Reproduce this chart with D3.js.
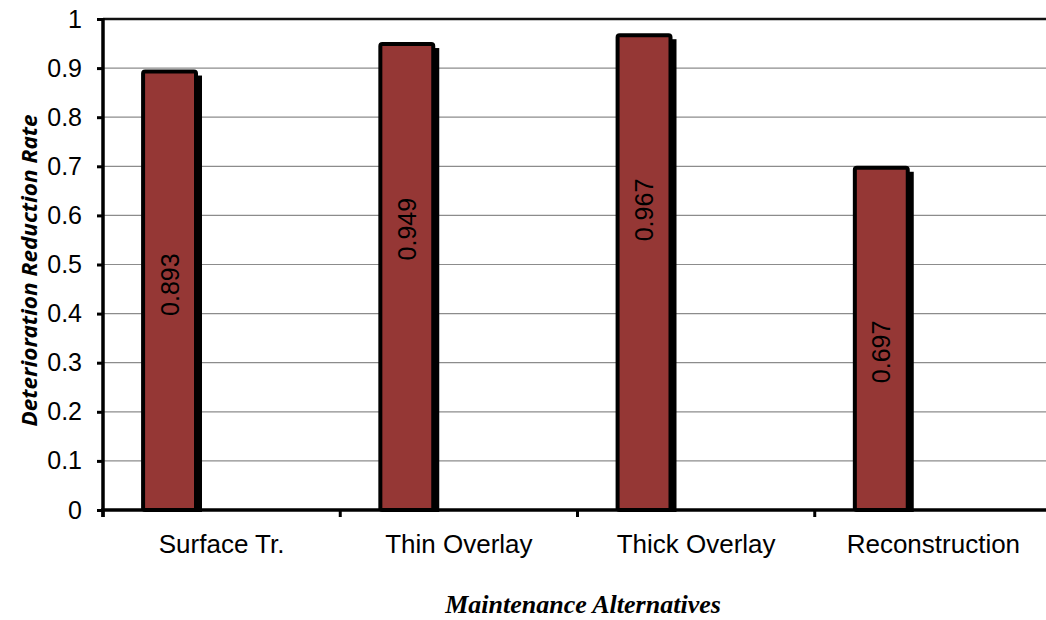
<!DOCTYPE html>
<html>
<head>
<meta charset="utf-8">
<script src="https://cdn.jsdelivr.net/npm/d3@7"></script>
<style>
  body { margin: 0; background: #fff; }
  svg text { font-family: "Liberation Sans", Arial, sans-serif; fill: #000; }
</style>
</head>
<body>
<div id="chart"></div>
<script>
// chart data
var categories = ["Surface Tr.", "Thin Overlay", "Thick Overlay", "Reconstruction"];
var values = [0.893, 0.949, 0.967, 0.697];
var yTicks = [0, 0.1, 0.2, 0.3, 0.4, 0.5, 0.6, 0.7, 0.8, 0.9, 1];

// where each value label sits along its bar (in axis units)
var labelAt = [0.459, 0.572, 0.611, 0.322];

var W = 1046, H = 620;
var plotL = 103, plotT = 19, plotB = 510, plotR = 1052;

var svg = d3.select("#chart").append("svg")
  .attr("width", W)
  .attr("height", H);

var x = d3.scaleBand()
  .domain(categories)
  .range([plotL, plotR]);

var y = d3.scaleLinear()
  .domain([0, 1])
  .range([plotB, plotT]);

var bw = x.bandwidth();
var barOff = bw * 0.169, barW = bw * 0.223;

// gridlines
svg.append("g")
  .selectAll("line")
  .data(yTicks.filter(function(d) { return d > 0 && d < 1; }))
  .enter().append("line")
  .attr("x1", plotL).attr("x2", W)
  .attr("y1", function(d) { return y(d); })
  .attr("y2", function(d) { return y(d); })
  .attr("stroke", "#8c8c8c")
  .attr("stroke-width", 1.2);

// top line
svg.append("line")
  .attr("x1", plotL).attr("x2", W)
  .attr("y1", y(1)).attr("y2", y(1))
  .attr("stroke", "#111")
  .attr("stroke-width", 2.5);

// bar shadows
svg.append("g")
  .selectAll("rect")
  .data(values)
  .enter().append("rect")
  .attr("x", function(d, i) { return x(categories[i]) + barOff + 4; })
  .attr("y", function(d) { return y(d) + 6; })
  .attr("width", barW)
  .attr("height", function(d) { return plotB - y(d) - 6; })
  .attr("fill", "#000")
  .attr("stroke", "#000")
  .attr("stroke-width", 4);

// bars
svg.append("g")
  .selectAll("rect")
  .data(values)
  .enter().append("rect")
  .attr("x", function(d, i) { return x(categories[i]) + barOff; })
  .attr("y", function(d) { return y(d); })
  .attr("width", barW)
  .attr("height", function(d) { return plotB - y(d); })
  .attr("rx", 2)
  .attr("fill", "#953735")
  .attr("stroke", "#000")
  .attr("stroke-width", 4);

// value labels
svg.append("g")
  .selectAll("text")
  .data(values)
  .enter().append("text")
  .attr("transform", function(d, i) {
    var cx = x(categories[i]) + barOff + barW / 2;
    return "translate(" + cx + "," + y(labelAt[i]) + ") rotate(-90)";
  })
  .attr("text-anchor", "middle")
  .attr("dy", "0.36em")
  .style("font-size", "25px")
  .text(function(d) { return d3.format(".3f")(d); });

// y axis
var yAxis = d3.axisLeft(y)
  .tickValues(yTicks)
  .tickSize(6)
  .tickPadding(15)
  .tickFormat(function(d) { return d3.format("~g")(d); });

var gy = svg.append("g")
  .attr("transform", "translate(" + plotL + ",0)")
  .call(yAxis);
gy.select(".domain")
  .attr("d", "M0," + (plotT - 1) + "V" + (plotB + 7))
  .attr("stroke", "#000")
  .attr("stroke-width", 3.5);
gy.selectAll(".tick line").attr("stroke", "#000").attr("stroke-width", 3);
gy.selectAll(".tick text")
  .style("font-family", "'Liberation Sans', Arial, sans-serif")
  .style("font-size", "25px");

// x axis
var gx = svg.append("g")
  .attr("transform", "translate(0," + plotB + ")");
gx.append("line")
  .attr("x1", plotL - 2).attr("x2", W)
  .attr("y1", 0).attr("y2", 0)
  .attr("stroke", "#000")
  .attr("stroke-width", 3.5);
gx.selectAll(".xtick")
  .data(categories)
  .enter().append("line")
  .attr("class", "xtick")
  .attr("x1", function(d) { return x(d); })
  .attr("x2", function(d) { return x(d); })
  .attr("y1", 0).attr("y2", 7)
  .attr("stroke", "#000")
  .attr("stroke-width", 3);
gx.selectAll(".xlabel")
  .data(categories)
  .enter().append("text")
  .attr("class", "xlabel")
  .attr("x", function(d) { return x(d) + bw / 2; })
  .attr("y", 43)
  .attr("text-anchor", "middle")
  .style("font-size", "26px")
  .text(function(d) { return d; });

// axis titles
svg.append("text")
  .attr("transform", "translate(37," + ((plotT + plotB) / 2 + 6) + ") rotate(-90)")
  .attr("text-anchor", "middle")
  .style("font-family", "'Noto Sans', 'Open Sans', sans-serif")
  .style("font-weight", "bold")
  .style("font-style", "italic")
  .style("font-size", "21px")
  .attr("textLength", 312)
  .attr("lengthAdjust", "spacingAndGlyphs")
  .text("Deterioration Reduction Rate");

svg.append("text")
  .attr("x", 583)
  .attr("y", 613)
  .attr("text-anchor", "middle")
  .style("font-family", "'Liberation Serif', 'Times New Roman', serif")
  .style("font-weight", "bold")
  .style("font-style", "italic")
  .style("font-size", "26px")
  .text("Maintenance Alternatives");
</script>
</body>
</html>
